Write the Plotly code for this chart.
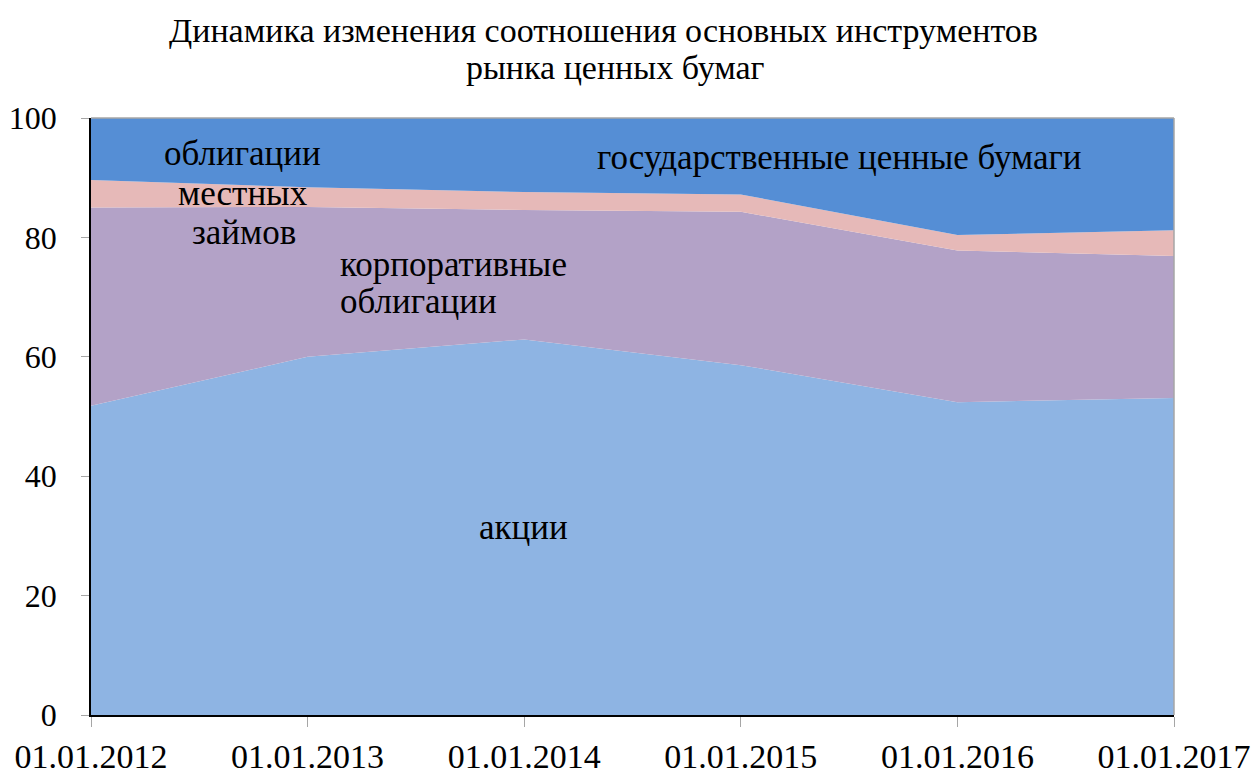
import plotly.graph_objects as go

dates = ["01.01.2012", "01.01.2013", "01.01.2014", "01.01.2015", "01.01.2016", "01.01.2017"]
stocks = [51.8, 60.0, 62.9, 58.6, 52.4, 53.1]          # акции
corporate = [33.2, 25.1, 21.7, 25.7, 25.4, 23.8]       # корпоративные облигации
municipal = [4.6, 3.3, 3.0, 2.9, 2.6, 4.3]             # облигации местных займов
government = [10.4, 11.6, 12.4, 12.8, 19.6, 18.8]      # государственные ценные бумаги
y_ticks = [0, 20, 40, 60, 80, 100]
title_lines = ["Динамика изменения соотношения основных инструментов", "рынка ценных бумаг"]

FONT = "'Liberation Serif', Tinos, 'Times New Roman', Times, 'DejaVu Serif', 'Noto Serif', serif"
series = [
    ("акции", stocks, "#8EB4E3"),
    ("корпоративные облигации", corporate, "#B3A2C7"),
    ("облигации местных займов", municipal, "#E6B9B8"),
    ("государственные ценные бумаги", government, "#558ED5"),
]

x_idx = list(range(len(dates)))
fig = go.Figure()
for name, vals, col in series:
    fig.add_trace(go.Scatter(
        x=x_idx, y=vals, name=name, mode="lines", stackgroup="one",
        line=dict(width=0, color=col), fillcolor=col, showlegend=False,
        hoverinfo="x+y+name",
    ))

W, H = 1255, 773
L, R, T, B = 91, 81, 118, 58
PW, PH = W - L - R, H - T - B

def px_paper(px, py):
    return (px - L) / PW, (H - B - py) / PH

labels = [
    ("облигации", 242.5, 153.5, "center"),
    ("местных", 243, 193.5, "center"),
    ("займов", 244, 232, "center"),
    ("корпоративные", 338, 264, "left"),
    ("облигации", 338, 301.5, "left"),
    ("государственные ценные бумаги", 839, 157.5, "center"),
    ("акции", 523.5, 527.5, "center"),
]
for txt, px, py, anc in labels:
    x, y = px_paper(px, py)
    fig.add_annotation(x=x, y=y, xref="paper", yref="paper", text=txt, showarrow=False,
                       xanchor=anc, yanchor="middle",
                       font=dict(family=FONT, size=35, color="black"))

# title (two lines, separately placed)
for txt, px, py in [(title_lines[0], 603, 30), (title_lines[1], 615, 67.5)]:
    x, y = px_paper(px, py)
    fig.add_annotation(x=x, y=y, xref="paper", yref="paper", text=txt, showarrow=False,
                       xanchor="center", yanchor="middle",
                       font=dict(family=FONT, size=34, color="black"))

# top/right plot border (grey)
fig.add_shape(type="line", xref="paper", yref="paper", x0=0, x1=1, y0=1, y1=1,
              line=dict(color="#A6A6A6", width=1.5), layer="above")
fig.add_shape(type="line", xref="paper", yref="paper", x0=1, x1=1, y0=0, y1=1,
              line=dict(color="#A6A6A6", width=1.5), layer="above")

fig.update_layout(
    width=W, height=H,
    margin=dict(l=L, r=R, t=T, b=B, autoexpand=False),
    paper_bgcolor="white", plot_bgcolor="white",
    font=dict(family=FONT, color="black"),
)
fig.update_xaxes(
    range=[0, len(dates) - 1], tickvals=x_idx, ticktext=dates, automargin=False,
    showgrid=False, zeroline=False, showline=True, linecolor="black", linewidth=1.5,
    ticks="outside", ticklen=10, tickcolor="#A6A6A6", tickwidth=1,
    tickfont=dict(family=FONT, size=34, color="black"),
)
fig.update_yaxes(
    range=[0, 100], tickvals=y_ticks, automargin=False,
    showgrid=False, zeroline=False, showline=True, linecolor="black", linewidth=1.5,
    ticks="outside", ticklen=8, tickcolor="#A6A6A6", tickwidth=1,
    tickfont=dict(family=FONT, size=32, color="black"), ticklabelstandoff=18,
)
fig.write_html("out.html", config={"displayModeBar": False},
               post_script="document.body.style.margin='0';")
